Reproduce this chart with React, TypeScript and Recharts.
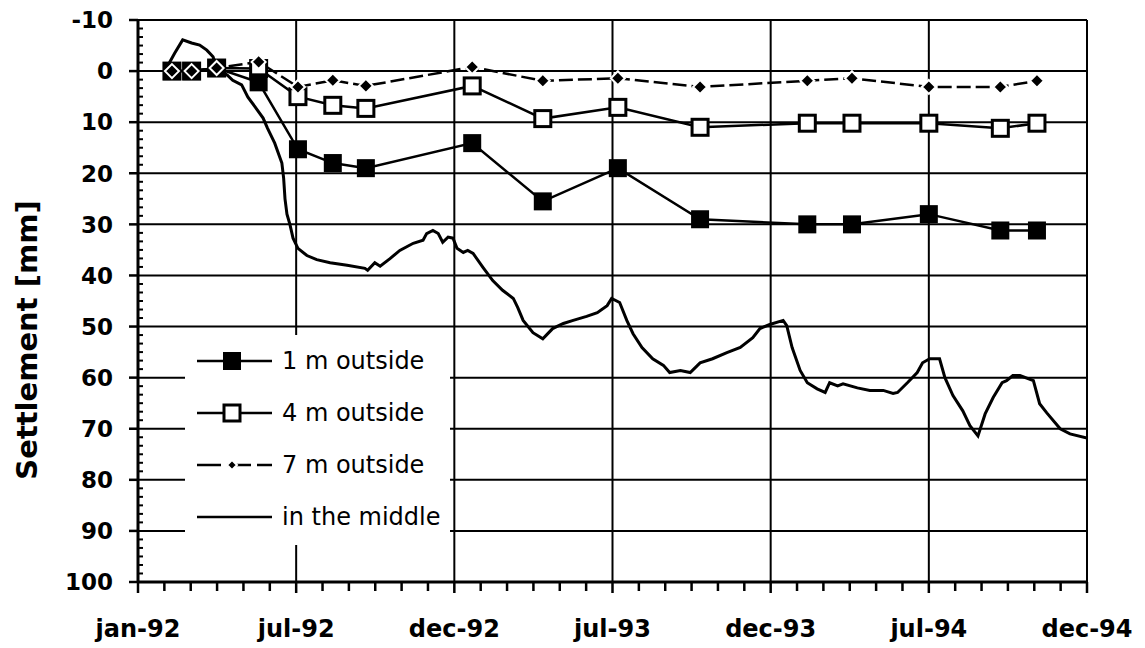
import React from "react";
import { CartesianGrid, Legend, Line, LineChart, XAxis, YAxis } from "recharts";

// days since 1 jan 1992
const xMajorTicks = [0, 177, 354, 531, 708, 885, 1062];
const xTickLabels = ["jan-92", "jul-92", "dec-92", "jul-93", "dec-93", "jul-94", "dec-94"];
const yMajorTicks = [-10, 0, 10, 20, 30, 40, 50, 60, 70, 80, 90, 100];
const MINOR = 6;

// survey dates of the three outside points
const surveyDays = [38, 60, 88, 135, 179, 218, 255, 374, 453, 537, 629, 749, 799, 885, 965, 1006];
const oneMeter = [0, 0, -0.6, 2.2, 15.3, 18, 19, 14.1, 25.5, 19, 29, 30, 30, 28, 31.2, 31.2];
const fourMeter = [0, 0, -0.6, -0.5, 5, 6.7, 7.3, 2.9, 9.3, 7.1, 11, 10.2, 10.2, 10.2, 11.2, 10.2];
const sevenMeter = [0, 0, -0.6, -1.8, 3.1, 1.8, 2.9, -0.8, 1.9, 1.4, 3.1, 1.9, 1.4, 3.1, 3.1, 1.9];

// continuous record in the middle
const middleDays = [
  30, 41, 50, 60, 69, 77, 84, 88, 100, 106, 116, 123, 131, 140, 145, 153, 161, 163, 164.5, 166.7,
  170, 173.5, 179, 189, 200, 215, 234, 254, 257, 265, 271, 282, 293, 308, 319, 323, 330, 336, 341, 347,
  352.5, 357, 364, 369, 375, 386, 397, 408, 420, 425, 431, 442, 453, 464, 476, 487, 502, 514, 525, 530,
  539, 547, 554, 564, 576, 588, 595, 607, 618, 629, 643, 659, 674, 688, 696, 707, 722, 726, 732, 741,
  749, 760, 769, 774, 783, 789, 805, 819, 834, 845, 850, 861, 872, 878, 886, 897, 903, 912, 923, 931,
  940, 948, 957, 967, 972, 979, 987, 1002, 1009, 1017, 1032, 1043, 1062,
];
const middleValues = [
  0, -3.5, -6.1, -5.5, -5.1, -4.1, -2.8, -0.6, 0.8, 1.8, 2.7, 5.1, 7, 9.2, 11.2, 14.1, 18, 21, 25, 28,
  30, 32.7, 34.7, 36.1, 36.9, 37.5, 38, 38.6, 39, 37.5, 38.2, 36.7, 35.1, 33.7, 33.1, 31.8, 31.2, 31.8, 33.5, 32.5,
  32.7, 34.7, 35.5, 35.1, 35.7, 38.4, 41, 42.9, 44.5, 46.3, 48.8, 51.2, 52.4, 50.4, 49.4, 48.8, 48, 47.3, 45.9, 44.5,
  45.3, 48.8, 51.4, 54.1, 56.3, 57.6, 59, 58.6, 59, 57.1, 56.3, 55.1, 54.1, 52.2, 50.4, 49.6, 48.8, 49.8, 54.1, 58.6,
  61, 62.2, 62.9, 61, 61.6, 61.2, 62, 62.5, 62.5, 63.1, 62.9, 61, 59, 57.1, 56.3, 56.3, 60, 63.5, 66.5, 69.4,
  71.4, 67.1, 63.9, 61, 60.6, 59.6, 59.6, 60.6, 65.1, 66.9, 70, 71, 71.8,
];

const legendItems = [
  { label: "1 m outside", marker: "filled" },
  { label: "4 m outside", marker: "open" },
  { label: "7 m outside", marker: "diamond" },
  { label: "in the middle", marker: "none" },
];

const subdivide = (majors: number[], n: number) => {
  const out: number[] = [];
  for (let i = 0; i < majors.length - 1; i++) {
    for (let k = 0; k < n; k++) out.push(majors[i] + ((majors[i + 1] - majors[i]) * k) / n);
  }
  out.push(majors[majors.length - 1]);
  return out;
};

const xTicks = subdivide(xMajorTicks, MINOR);
const yTicks = subdivide(yMajorTicks, MINOR);

const surveyRows = surveyDays.map((day, i) => ({
  day,
  one: oneMeter[i],
  four: fourMeter[i],
  seven: sevenMeter[i],
}));
const middleRows = middleDays.map((day, i) => ({ day, mid: middleValues[i] }));

const FONT = '"DejaVu Sans", Arial, sans-serif';
const X_TICK_SIZE = 10;
const X_TICK_MARGIN = 28;
const Y_TICK_SIZE = 8;
const Y_TICK_MARGIN = 17;

function XTick(props: any) {
  const { x, y, index } = props;
  const axisY = y - X_TICK_SIZE - X_TICK_MARGIN;
  const major = index % MINOR === 0;
  return (
    <g>
      <line x1={x} x2={x} y1={axisY} y2={axisY + (major ? 11 : 9)} stroke="#000" strokeWidth={2.5} />
      {major && (
        <text x={x} y={y} dy="0.71em" textAnchor="middle" fontFamily={FONT} fontWeight="bold" fontSize={24} fill="#000">
          {xTickLabels[index / MINOR]}
        </text>
      )}
    </g>
  );
}

function YTick(props: any) {
  const { x, y, index } = props;
  const axisX = x + Y_TICK_SIZE + Y_TICK_MARGIN;
  const major = index % MINOR === 0;
  return (
    <g>
      {major ? (
        <line x1={axisX - 9} x2={axisX} y1={y} y2={y} stroke="#000" strokeWidth={2.5} />
      ) : (
        <line x1={axisX} x2={axisX + 5} y1={y} y2={y} stroke="#000" strokeWidth={2} />
      )}
      {major && (
        <text x={x} y={y} dy="0.36em" textAnchor="end" fontFamily={FONT} fontWeight="bold" fontSize={23} fill="#000">
          {yMajorTicks[index / MINOR]}
        </text>
      )}
    </g>
  );
}

function YLabel(props: any) {
  const vb = props.viewBox;
  const x = vb.x + 37;
  const cy = vb.y + vb.height / 2 + 39;
  return (
    <text x={x} y={cy} transform={`rotate(-90 ${x} ${cy})`} textAnchor="middle" fontFamily={FONT} fontWeight="bold" fontSize={29} fill="#000">
      Settlement [mm]
    </text>
  );
}

const filledDot = (p: any) => (
  <rect key={`f${p.index}`} x={p.cx - 9} y={p.cy - 9} width={18} height={18} fill="#000" />
);
const openDot = (p: any) => (
  <rect key={`o${p.index}`} x={p.cx - 8} y={p.cy - 8} width={16} height={16} fill="#fff" stroke="#000" strokeWidth={3} />
);
const diamondDot = (p: any) => (
  <path
    key={`d${p.index}`}
    d={`M${p.cx},${p.cy - 7} L${p.cx + 7},${p.cy} L${p.cx},${p.cy + 7} L${p.cx - 7},${p.cy} Z`}
    fill="#000"
    stroke="#fff"
    strokeWidth={2}
  />
);

function LegendMarker({ kind }: { kind: string }) {
  if (kind === "filled") return <rect x={38} y={3} width={18} height={18} fill="#000" />;
  if (kind === "open") return <rect x={39} y={4} width={16} height={16} fill="#fff" stroke="#000" strokeWidth={3} />;
  if (kind === "diamond") return <path d="M47,7 L52,12 L47,17 L42,12 Z" fill="#000" stroke="#fff" strokeWidth={2} />;
  return null;
}

function LegendBox() {
  return (
    <div style={{ width: "100%", height: "100%", background: "#fff", fontFamily: FONT, fontSize: 24, color: "#000" }}>
      {legendItems.map((it) => (
        <div key={it.label} style={{ display: "flex", alignItems: "center", height: 52 }}>
          <svg width={97} height={24} style={{ flex: "none" }}>
            <line
              x1={12}
              x2={87}
              y1={12}
              y2={12}
              stroke="#000"
              strokeWidth={2.5}
              strokeDasharray={it.marker === "diamond" ? "24 6" : undefined}
            />
            <LegendMarker kind={it.marker} />
          </svg>
          <span style={{ whiteSpace: "nowrap" }}>{it.label}</span>
        </div>
      ))}
    </div>
  );
}

export default function App() {
  return (
    <div style={{ position: "absolute", left: 0, top: 0, width: 1145, height: 648, background: "#fff" }}>
      <LineChart width={1145} height={648} margin={{ top: 20, right: 58, bottom: 0, left: 0 }}>
        <CartesianGrid
          horizontalValues={yMajorTicks}
          verticalValues={xMajorTicks}
          stroke="#000"
          strokeWidth={2}
          fill="#fff"
        />
        <XAxis
          dataKey="day"
          type="number"
          domain={[0, 1062]}
          ticks={xTicks}
          interval={0}
          height={66}
          tickSize={X_TICK_SIZE}
          tickMargin={X_TICK_MARGIN}
          tickLine={false}
          tick={<XTick />}
          axisLine={{ stroke: "#000", strokeWidth: 3 }}
          allowDataOverflow
        />
        <YAxis
          type="number"
          domain={[-10, 100]}
          reversed
          ticks={yTicks}
          interval={0}
          width={138}
          tickSize={Y_TICK_SIZE}
          tickMargin={Y_TICK_MARGIN}
          tickLine={false}
          tick={<YTick />}
          axisLine={{ stroke: "#000", strokeWidth: 3 }}
          label={(p: any) => <YLabel {...p} />}
          allowDataOverflow
        />
        <Line data={surveyRows} dataKey="four" type="linear" stroke="#000" strokeWidth={2.5} dot={openDot} isAnimationActive={false} />
        <Line data={surveyRows} dataKey="one" type="linear" stroke="#000" strokeWidth={2.5} dot={filledDot} isAnimationActive={false} />
        <Line
          data={surveyRows}
          dataKey="seven"
          type="linear"
          stroke="#000"
          strokeWidth={2.5}
          strokeDasharray="14 5"
          dot={diamondDot}
          isAnimationActive={false}
        />
        <Line data={middleRows} dataKey="mid" type="linear" stroke="#000" strokeWidth={3} dot={false} isAnimationActive={false} />
        <Legend
          layout="vertical"
          verticalAlign="middle"
          align="center"
          content={() => <LegendBox />}
          wrapperStyle={{ left: 185, top: 335, width: 265, height: 210, background: "#fff" }}
        />
      </LineChart>
    </div>
  );
}
